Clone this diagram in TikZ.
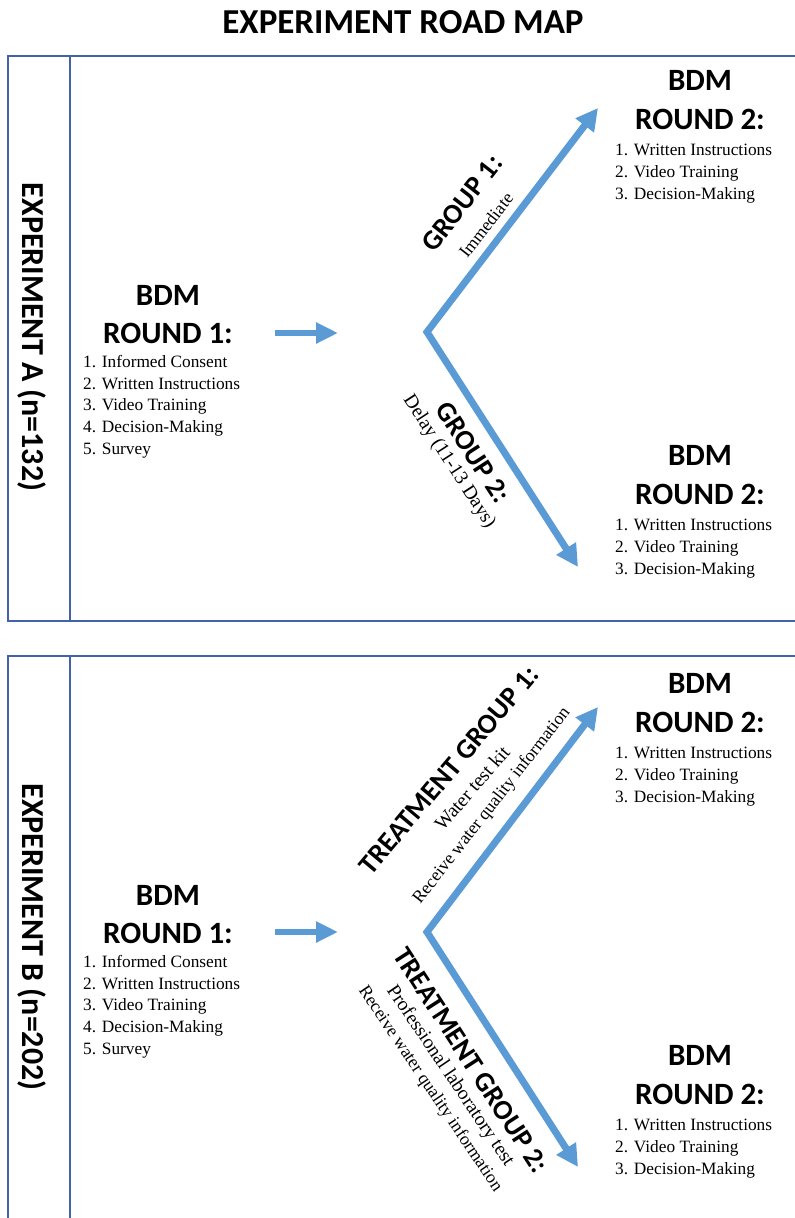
\documentclass[tikz,border=0pt]{standalone}
\usepackage{fontspec}
\setmainfont{Liberation Serif}
\newfontfamily\calibri{Carlito}
\usepackage{tikz}
\usetikzlibrary{arrows.meta}
\definecolor{frameblue}{RGB}{66,98,170}
\definecolor{arrowblue}{RGB}{91,155,213}

\begin{document}
\begin{tikzpicture}[x=1pt,y=-1pt,
	frame/.style={frameblue, line width=1.6pt},
	head/.style={font=\calibri\bfseries\fontsize{31}{36}\selectfont, anchor=base, inner sep=0pt},
	steps/.style={font=\fontsize{17.3}{21.8}\selectfont, align=left, anchor=north west, inner sep=0pt},
	grp/.style={font=\calibri\bfseries\fontsize{28}{32}\selectfont, inner sep=0pt},
	note/.style={font=\fontsize{19.5}{22}\selectfont, inner sep=0pt},
	small/.style={font=\fontsize{17.8}{20}\selectfont, inner sep=0pt},
	flow/.style={arrowblue, line width=6pt, -{Triangle[length=22pt,width=20pt]}},
	fork/.style={arrowblue, line width=7pt, line join=miter, {Triangle[length=22pt,width=22pt]}-{Triangle[length=22pt,width=22pt]}}]
		\useasboundingbox (0,0) rectangle (795,1218);
		\node[font=\calibri\bfseries\fontsize{35}{40}\selectfont, anchor=base, inner sep=0pt] (title) at (403,33) {EXPERIMENT ROAD MAP};
		\draw[frame] (800,56) -- (8,56) -- (8,621) -- (800,621);
		\draw[frame] (70,56) -- (70,621);
		\draw[frame] (800,656) -- (8,656) -- (8,1225);
		\draw[frame] (70,656) -- (70,1225);
		\node[font=\calibri\bfseries\fontsize{32}{36}\selectfont, rotate=-90, anchor=base, inner sep=0pt] (expA) at (22,337) {EXPERIMENT A (n=132)};
		\node[font=\calibri\bfseries\fontsize{32}{36}\selectfont, rotate=-90, anchor=base, inner sep=0pt] (expB) at (22,937) {EXPERIMENT B (n=202)};
		\foreach \k/\y in {a/305, b/905} {
			\node[head] (bdm\k) at (168,\y) {BDM};
			\node[head] (rnd\k) at (168,\y+38) {ROUND 1:};
			\node[steps] (lst\k) at (83,\y+50) {1. Informed Consent\\2. Written Instructions\\3. Video Training\\4. Decision-Making\\5. Survey};
		}
		\foreach \k/\y in {ua/90, da/465, ub/693, db/1065} {
			\node[head] (bdm\k) at (700,\y) {BDM};
			\node[head] (rnd\k) at (700,\y+39) {ROUND 2:};
			\node[steps] (lst\k) at (615,\y+54) {1. Written Instructions\\2. Video Training\\3. Decision-Making};
		}
		\coordinate (inA) at (275,333);
		\coordinate (outA) at (338,333);
		\coordinate (inB) at (275,932);
		\coordinate (outB) at (338,932);
		\draw[flow] (inA) -- (outA);
		\draw[flow] (inB) -- (outB);
		\coordinate (vA) at (427,332);
		\coordinate (upA) at (598,108);
		\coordinate (dnA) at (578,567);
		\coordinate (vB) at (427,932);
		\coordinate (upB) at (598,707);
		\coordinate (dnB) at (578,1167);
		\draw[fork] (upA) -- (vA) -- (dnA);
		\draw[fork] (upB) -- (vB) -- (dnB);
		\node[grp, rotate=52] (g1) at (462,203) {GROUP 1:};
		\node[small, rotate=52] (g1t) at (486,225) {Immediate};
		\node[grp, rotate=-57] (g2) at (473,452) {GROUP 2:};
		\node[note, rotate=-57] (g2t) at (449,462) {Delay (11-13 Days)};
		\node[grp, rotate=50] (t1) at (449,770) {TREATMENT GROUP 1:};
		\node[note, rotate=49] (t1a) at (472,788) {Water test kit};
		\node[small, rotate=52] (t1b) at (492,806) {Receive water quality information};
		\node[grp, rotate=-57] (t2) at (471,1060) {TREATMENT GROUP 2:};
		\node[note, rotate=-56] (t2a) at (450,1076) {Professional laboratory test};
		\node[small, rotate=-56] (t2b) at (430,1089) {Receive water quality information};
\end{tikzpicture}
\end{document}
